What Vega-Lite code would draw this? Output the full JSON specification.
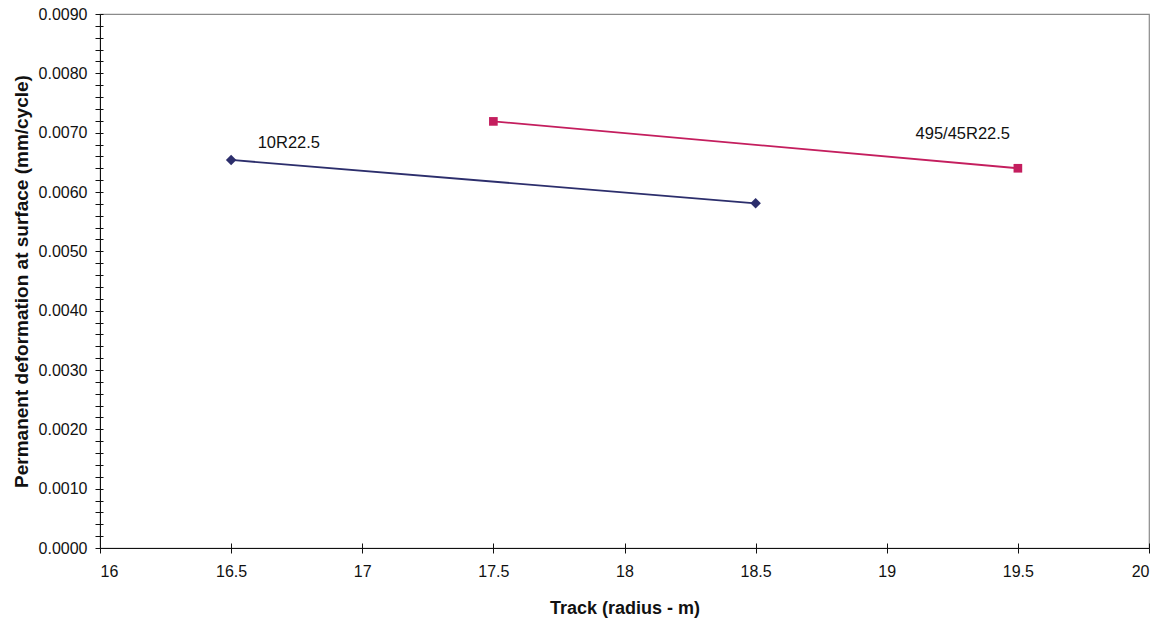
{
  "$schema": "https://vega.github.io/schema/vega-lite/v6.json",
  "width": 1049,
  "height": 534,
  "autosize": "none",
  "padding": {"left": 100, "top": 14, "right": 16, "bottom": 75},
  "background": "white",
  "config": {
    "view": {"stroke": "#8a8a8a", "strokeWidth": 1.2},
    "font": "Liberation Sans",
    "axis": {
      "labelFont": "Liberation Sans",
      "titleFont": "Liberation Sans",
      "labelFontSize": 16,
      "titleFontSize": 18,
      "titleFontWeight": "bold",
      "labelColor": "#111",
      "titleColor": "#111",
      "domainColor": "#111",
      "tickColor": "#111",
      "grid": false
    }
  },
  "datasets": {
    "pts": [
      {"track": 16.5, "def": 0.00654, "series": "10R22.5"},
      {"track": 18.5, "def": 0.00581, "series": "10R22.5"},
      {"track": 17.5, "def": 0.00719, "series": "495/45R22.5"},
      {"track": 19.5, "def": 0.0064, "series": "495/45R22.5"}
    ],
    "labels": [
      {"track": 16.72, "def": 0.00683, "text": "10R22.5"},
      {"track": 19.29, "def": 0.00697, "text": "495/45R22.5"}
    ]
  },
  "resolve": {"axis": {"x": "independent", "y": "independent"}, "scale": {"x": "shared", "y": "shared"}},
  "layer": [
    {
      "data": {"name": "pts"},
      "mark": {"type": "line", "strokeWidth": 1.8},
      "encoding": {
        "x": {
          "field": "track", "type": "quantitative",
          "scale": {"domain": [16, 20], "nice": false, "zero": false},
          "axis": {
            "orient": "bottom",
            "values": [16, 16.5, 17, 17.5, 18, 18.5, 19, 19.5, 20],
            "format": "~g",
            "tickSize": 5,
            "labelPadding": 10,
            "title": "Track (radius - m)",
            "titlePadding": 20
          }
        },
        "y": {
          "field": "def", "type": "quantitative",
          "scale": {"domain": [0, 0.009], "nice": false, "zero": true},
          "axis": {
            "orient": "left",
            "values": [0, 0.0002, 0.0004, 0.0006, 0.0008, 0.001, 0.0012, 0.0014, 0.0016, 0.0018, 0.002, 0.0022, 0.0024, 0.0026, 0.0028, 0.003, 0.0032, 0.0034, 0.0036, 0.0038, 0.004, 0.0042, 0.0044, 0.0046, 0.0048, 0.005, 0.0052, 0.0054, 0.0056, 0.0058, 0.006, 0.0062, 0.0064, 0.0066, 0.0068, 0.007, 0.0072, 0.0074, 0.0076, 0.0078, 0.008, 0.0082, 0.0084, 0.0086, 0.0088, 0.009],
            "labelExpr": "abs(datum.value * 1000 - round(datum.value * 1000)) < 0.01 ? format(datum.value, '.4f') : ''",
            "tickSize": 5,
            "labelPadding": 8,
            "title": "Permanent deformation at surface (mm/cycle)",
            "titleFontSize": 19,
            "titlePadding": 7
          }
        },
        "color": {
          "field": "series", "type": "nominal",
          "scale": {"domain": ["10R22.5", "495/45R22.5"], "range": ["#2c2e6c", "#c41e5e"]},
          "legend": null
        }
      }
    },
    {
      "data": {"name": "pts"},
      "mark": {"type": "point", "filled": true, "opacity": 1},
      "encoding": {
        "x": {
          "field": "track", "type": "quantitative",
          "axis": {
            "orient": "bottom",
            "values": [16, 16.5, 17, 17.5, 18, 18.5, 19, 19.5, 20],
            "tickSize": -5, "labels": false, "domain": false, "title": null
          }
        },
        "y": {
          "field": "def", "type": "quantitative",
          "axis": {
            "orient": "left",
            "values": [0, 0.0002, 0.0004, 0.0006, 0.0008, 0.001, 0.0012, 0.0014, 0.0016, 0.0018, 0.002, 0.0022, 0.0024, 0.0026, 0.0028, 0.003, 0.0032, 0.0034, 0.0036, 0.0038, 0.004, 0.0042, 0.0044, 0.0046, 0.0048, 0.005, 0.0052, 0.0054, 0.0056, 0.0058, 0.006, 0.0062, 0.0064, 0.0066, 0.0068, 0.007, 0.0072, 0.0074, 0.0076, 0.0078, 0.008, 0.0082, 0.0084, 0.0086, 0.0088, 0.009],
            "tickSize": -3, "labels": false, "domain": false, "title": null
          }
        },
        "shape": {
          "field": "series", "type": "nominal",
          "scale": {"domain": ["10R22.5", "495/45R22.5"], "range": ["diamond", "square"]},
          "legend": null
        },
        "size": {
          "field": "series", "type": "nominal",
          "scale": {"domain": ["10R22.5", "495/45R22.5"], "range": [110, 75]},
          "legend": null
        },
        "color": {
          "field": "series", "type": "nominal",
          "scale": {"domain": ["10R22.5", "495/45R22.5"], "range": ["#3d3f86", "#d22e6c"]},
          "legend": null
        }
      }
    },
    {
      "data": {"name": "labels"},
      "mark": {"type": "text", "font": "Liberation Sans", "fontSize": 16.5, "color": "#111", "align": "center", "baseline": "middle"},
      "encoding": {
        "x": {"field": "track", "type": "quantitative", "axis": null},
        "y": {"field": "def", "type": "quantitative", "axis": null},
        "text": {"field": "text"}
      }
    }
  ]
}
